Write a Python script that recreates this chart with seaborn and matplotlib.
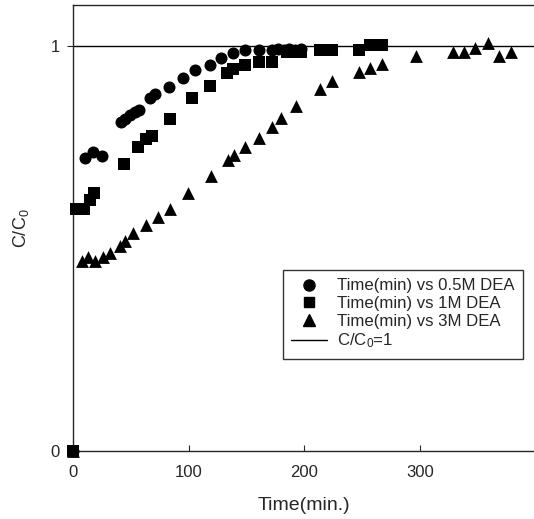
import matplotlib
matplotlib.use("Agg")
import matplotlib.pyplot as plt
import seaborn as sns
import pandas as pd
from matplotlib.lines import Line2D

# Time (min) and C/C0 for each DEA concentration
t_05 = [0, 10, 17, 25, 41, 45, 49, 53, 57, 66, 71, 83, 95, 105, 118, 128, 138,
        149, 161, 172, 177, 182, 187, 192, 197]
c_05 = [0, 0.722, 0.737, 0.729, 0.811, 0.819, 0.828, 0.836, 0.842, 0.870, 0.881,
        0.899, 0.920, 0.940, 0.952, 0.970, 0.981, 0.989, 0.990, 0.990, 0.991,
        0.990, 0.991, 0.990, 0.991]

t_1 = [0, 2, 9, 14, 18, 44, 56, 63, 68, 84, 103, 118, 133, 138, 149, 161, 172,
       185, 189, 193, 197, 214, 224, 247, 257, 267]
c_1 = [0, 0.598, 0.598, 0.620, 0.637, 0.709, 0.750, 0.770, 0.778, 0.819, 0.871,
       0.900, 0.933, 0.943, 0.952, 0.961, 0.961, 0.984, 0.984, 0.984, 0.984,
       0.989, 0.989, 0.989, 1.002, 1.002]

t_3 = [0, 7, 13, 19, 26, 32, 40, 45, 52, 63, 73, 84, 99, 119, 134, 139, 149, 161,
       172, 180, 193, 214, 224, 247, 257, 267, 297, 329, 338, 348, 359, 369, 379]
c_3 = [0, 0.470, 0.479, 0.470, 0.479, 0.488, 0.507, 0.517, 0.538, 0.557, 0.577,
       0.598, 0.636, 0.679, 0.719, 0.731, 0.751, 0.773, 0.800, 0.822, 0.852,
       0.892, 0.913, 0.934, 0.944, 0.955, 0.974, 0.984, 0.984, 0.995, 1.006,
       0.974, 0.984]

labels = ["Time(min) vs 0.5M DEA", "Time(min) vs 1M DEA", "Time(min) vs 3M DEA"]

df = pd.concat([
    pd.DataFrame({"time": t_05, "c": c_05, "series": labels[0]}),
    pd.DataFrame({"time": t_1, "c": c_1, "series": labels[1]}),
    pd.DataFrame({"time": t_3, "c": c_3, "series": labels[2]}),
])

sns.set_style("ticks")
plt.rcParams["font.family"] = ["Liberation Sans", "DejaVu Sans"]
plt.rcParams["mathtext.default"] = "regular"

fig = plt.figure(figsize=(5.34, 5.19), dpi=100)
ax = fig.add_axes([0.1376, 0.131, 0.8624, 0.859])

markers = {labels[0]: "o", labels[1]: "s", labels[2]: "^"}
sizes = {labels[0]: 75, labels[1]: 65, labels[2]: 85}
for lab in labels:
    sns.scatterplot(data=df[df["series"] == lab], x="time", y="c", marker=markers[lab],
                    color="black", edgecolor="black", s=sizes[lab], linewidth=0,
                    ax=ax, legend=False, clip_on=False, zorder=3)

ax.axhline(1, color="black", linewidth=1.0, zorder=2)

ax.set_xlim(0, 399)
ax.set_ylim(0, 1.1)
ax.set_xticks([0, 100, 200, 300])
ax.set_yticks([0, 1])
ax.tick_params(axis="x", direction="in", length=4, labelsize=12, pad=10)
ax.tick_params(axis="y", direction="out", length=4, labelsize=12, pad=6)
for side in ["left", "bottom", "top"]:
    ax.spines[side].set_linewidth(1.0)
ax.spines["right"].set_visible(False)

ax.set_xlabel("Time(min.)", fontsize=14, labelpad=12)
ax.set_ylabel("C/C$_0$", fontsize=13, labelpad=14)

handles = [
    Line2D([], [], marker="o", color="black", linestyle="none", markersize=8),
    Line2D([], [], marker="s", color="black", linestyle="none", markersize=7),
    Line2D([], [], marker="^", color="black", linestyle="none", markersize=8),
    Line2D([], [], color="black", linewidth=1.0),
]
leg = ax.legend(handles, labels + ["C/C$_0$=1"], loc="upper left",
                bbox_to_anchor=(0.455, 0.406), borderaxespad=0, frameon=True,
                fancybox=False, edgecolor="black", fontsize=12.1,
                handlelength=2.1, labelspacing=0.16, borderpad=0.5,
                handletextpad=0.6)
leg.get_frame().set_linewidth(1.0)

fig.savefig("out.png", dpi=100)
